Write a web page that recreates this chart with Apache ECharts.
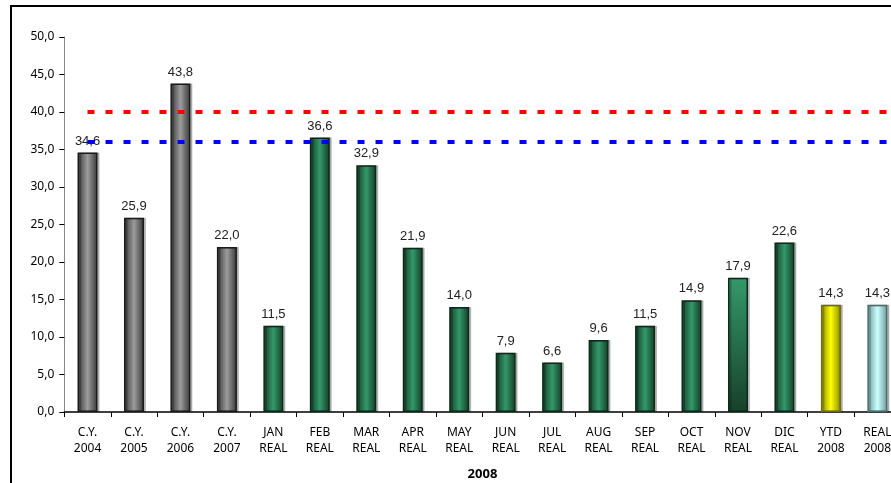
<!DOCTYPE html>
<html>
<head>
<meta charset="utf-8">
<script src="https://cdn.jsdelivr.net/npm/echarts@6/dist/echarts.min.js"></script>
<style>
  html, body { margin: 0; padding: 0; background: #fff; }
  #chart { width: 891px; height: 483px; }
</style>
</head>
<body>
<div id="chart"></div>
<script>
// Categories (two-line labels) and monthly values
const categories = [
  'C.Y.\n2004', 'C.Y.\n2005', 'C.Y.\n2006', 'C.Y.\n2007',
  'JAN\nREAL', 'FEB\nREAL', 'MAR\nREAL', 'APR\nREAL', 'MAY\nREAL', 'JUN\nREAL',
  'JUL\nREAL', 'AUG\nREAL', 'SEP\nREAL', 'OCT\nREAL', 'NOV\nREAL', 'DIC\nREAL',
  'YTD\n2008', 'REAL\n2008'
];
const values = [34.6, 25.9, 43.8, 22.0, 11.5, 36.6, 32.9, 21.9, 14.0, 7.9, 6.6, 9.6, 11.5, 14.9, 17.9, 22.6, 14.3, 14.3];
// Bar family per category
const barKinds = ['grey', 'grey', 'grey', 'grey',
  'green', 'green', 'green', 'green', 'green', 'green', 'green', 'green', 'green', 'green',
  'greenFade', 'green', 'yellow', 'cyan'];
// Reference levels
const redLevel = 40;
const blueLevel = 36;
const axisTitle = '2008';

const fmt = v => v.toFixed(1).replace('.', ',');

function cylinder(edge, mid) {
  return new echarts.graphic.LinearGradient(0, 0, 1, 0, [
    { offset: 0, color: edge },
    { offset: 0.5, color: mid },
    { offset: 1, color: edge }
  ]);
}

const styles = {
  grey: { color: cylinder('#363636', '#9c9c9c'), borderColor: '#1a1a1a' },
  green: { color: cylinder('#153a26', '#33996a'), borderColor: '#0c2a1a' },
  greenFade: {
    color: new echarts.graphic.LinearGradient(0, 0, 0, 1, [
      { offset: 0, color: '#34996a' },
      { offset: 1, color: '#17402a' }
    ]),
    borderColor: '#0c2a1a'
  },
  yellow: { color: cylinder('#8a8a00', '#ffff00'), borderColor: '#6a6a10' },
  cyan: { color: cylinder('#6a9a9a', '#ccffff'), borderColor: '#4a6a6a' }
};

const barData = values.map((v, i) => ({
  value: v,
  itemStyle: Object.assign({
    borderWidth: 1.5,
    shadowColor: 'rgba(0,0,0,0.22)',
    shadowOffsetX: 2,
    shadowOffsetY: 0,
    shadowBlur: 0
  }, styles[barKinds[i]])
}));

const n = categories.length;
const levelLine = lvl => [[0.5, lvl], [n, lvl]];

const axisFont = 'Noto Sans';

const chart = echarts.init(document.getElementById('chart'), null, { renderer: 'canvas' });
chart.setOption({
  animation: false,
  backgroundColor: '#ffffff',
  graphic: [{
    type: 'rect',
    z: 100,
    shape: { x: 11, y: 6, width: 1000, height: 1000 },
    style: { fill: 'none', stroke: '#000', lineWidth: 2 }
  }],
  grid: {
    left: 64.3, right: -9.6, top: 37, bottom: 71,
    containLabel: false, outerBoundsMode: 'none'
  },
  xAxis: [{
    type: 'category',
    data: categories,
    name: axisTitle,
    nameLocation: 'middle',
    nameGap: 56,
    nameTextStyle: { fontFamily: axisFont, fontWeight: 'bold', fontSize: 13, color: '#000' },
    axisLine: { lineStyle: { color: '#000', width: 1.5 } },
    axisTick: { show: true, length: 5, lineStyle: { color: '#000' } },
    axisLabel: {
      interval: 0, margin: 13, color: '#000',
      fontFamily: axisFont, fontSize: 12, lineHeight: 16
    }
  }, {
    type: 'value', min: 0, max: n, show: false
  }],
  yAxis: {
    type: 'value',
    min: 0, max: 50, interval: 5,
    axisLine: { show: true, lineStyle: { color: '#888', width: 1 } },
    axisTick: { show: true, length: 5, lineStyle: { color: '#000' } },
    splitLine: { show: false },
    axisLabel: {
      formatter: fmt, margin: 10, color: '#000',
      fontFamily: axisFont, fontSize: 12
    }
  },
  series: [{
    type: 'bar',
    xAxisIndex: 0,
    data: barData,
    barWidth: 20,
    label: {
      show: true, position: 'top', distance: 5,
      formatter: p => fmt(p.value),
      fontFamily: 'Liberation Sans', fontSize: 13, color: '#222'
    },
    z: 2
  }, {
    type: 'line',
    xAxisIndex: 1,
    data: levelLine(redLevel),
    symbol: 'none',
    lineStyle: { color: '#ff0000', width: 4, type: [7, 11] },
    z: 3
  }, {
    type: 'line',
    xAxisIndex: 1,
    data: levelLine(blueLevel),
    symbol: 'none',
    lineStyle: { color: '#0000ff', width: 4, type: [7, 11] },
    z: 3
  }]
});
</script>
</body>
</html>
